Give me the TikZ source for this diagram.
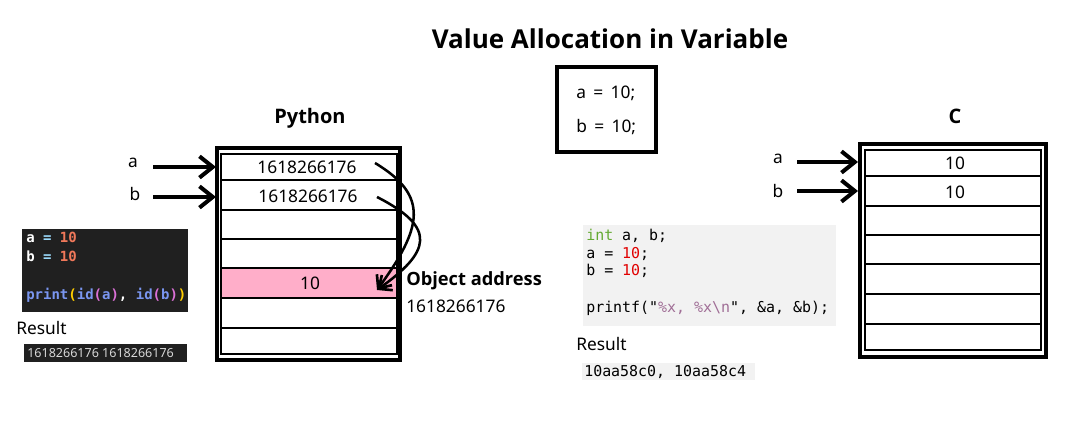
\documentclass[tikz,border=0pt]{standalone}
\usepackage{fontspec}
\setmainfont{Noto Sans}
\newfontfamily\hfont{Open Sans}
\setmonofont{DejaVu Sans Mono}
\usetikzlibrary{arrows.meta}
\definecolor{pinkrow}{RGB}{255,174,201}
\definecolor{darkbg}{RGB}{32,32,32}
\definecolor{lightbg}{RGB}{242,242,242}
\definecolor{eqblue}{RGB}{156,220,254}
\definecolor{numor}{RGB}{240,120,90}
\definecolor{fnblue}{RGB}{122,150,240}
\definecolor{brgold}{RGB}{255,205,0}
\definecolor{brpink}{RGB}{218,112,214}
\definecolor{intgreen}{RGB}{100,170,50}
\definecolor{numred}{RGB}{225,0,0}
\definecolor{strmauve}{RGB}{160,110,150}
\definecolor{resgray}{RGB}{215,215,215}
\tikzset{
  lbl/.style={inner sep=0pt, font=\fontsize{13}{15}\selectfont},
  ttl/.style={inner sep=0pt, font=\fontsize{15}{18}\selectfont\hfont\bfseries},
  outerbox/.style={draw, line width=2.5pt},
  innerbox/.style={draw, line width=0.8pt},
  rowline/.style={line width=0.8pt},
  bigarrow/.style={line width=3.3pt, -{Straight Barb[length=10pt,width=16pt,line width=3pt]}},
  curvearrow/.style={line width=1.9pt, -{Straight Barb[length=8pt,width=14pt,line width=2pt]}},
  code/.style={inner sep=0pt, anchor=west, font=\fontsize{11.2}{13}\ttfamily},
  dcode/.style={inner sep=0pt, anchor=west, font=\fontsize{10.5}{12}\ttfamily\bfseries},
}
\begin{document}
\begin{tikzpicture}[x=0.75pt,y=-0.75pt]
\useasboundingbox (0,0) rectangle (1082,427);
% Title
\node[inner sep=0pt, font=\fontsize{19.5}{23}\selectfont\hfont\bfseries] (title) at (610,39) {Value Allocation in Variable};
% central box
\draw[line width=2.3pt] (557,67) rectangle (656,152);
\node[lbl, anchor=west] (ca) at (576,93) {a \,=\, 10;};
\node[lbl, anchor=west] (cb) at (576,127) {b \,=\, 10;};

% ---------- Python ----------
\node[ttl] (py) at (310,118) {Python};
\fill[pinkrow] (221,268) rectangle (397,298);
\draw[outerbox] (217,148) rectangle (400,360);
\draw[innerbox] (221,154) rectangle (397,354);
\foreach \yy in {180,210,239,268,298,328} \draw[rowline] (221,\yy) -- (397,\yy);
\node[lbl] (p1) at (307,167) {1618266176};
\node[lbl] (p2) at (308,196) {1618266176};
\node[lbl] (p5) at (310,283) {10};
\node[lbl] (pa) at (133,163) {a};
\node[lbl] (pb) at (135,194) {b};
\coordinate (pas) at (153,167); \coordinate (pae) at (216,167);
\coordinate (pbs) at (153,197); \coordinate (pbe) at (216,197);
\draw[bigarrow] (pas) -- (pae);
\draw[bigarrow] (pbs) -- (pbe);
\coordinate (c1s) at (375,163);
\coordinate (c2s) at (377,197);
\coordinate (ctip) at (377,290);
\draw[curvearrow] (c1s) .. controls (430,196) and (422,228) .. (ctip);
\draw[curvearrow] (c2s) .. controls (438,228) and (430,252) .. (ctip);
\node[inner sep=0pt, anchor=west, font=\fontsize{13.7}{16}\selectfont\hfont\bfseries] (oa) at (406,281) {Object address};
\node[lbl, anchor=west] (oan) at (406,306) {1618266176};

% dark code box
\fill[darkbg] (22,229) rectangle (188,312);
\node[dcode] (d1) at (26,237) {\textcolor{white}{a} \textcolor{eqblue}{=} \textcolor{numor}{10}};
\node[dcode] (d2) at (26,256) {\textcolor{white}{b} \textcolor{eqblue}{=} \textcolor{numor}{10}};
\node[dcode] (d3) at (26,295) {\textcolor{fnblue}{print}\textcolor{brgold}{(}\textcolor{fnblue}{id}\textcolor{brpink}{(}\textcolor{fnblue}{a}\textcolor{brpink}{)}\textcolor{white}{,} \textcolor{fnblue}{id}\textcolor{brpink}{(}\textcolor{fnblue}{b}\textcolor{brpink}{)}\textcolor{brgold}{)}};
\node[lbl, anchor=west] (r1) at (16,328) {Result};
\fill[darkbg] (24,344) rectangle (187,362);
\node[inner sep=0pt, anchor=west, text=resgray, font=\fontsize{9.4}{11}\selectfont] (r1v) at (27,353) {1618266176 1618266176};

% ---------- C ----------
\node[ttl] (cc) at (955,116) {C};
\draw[outerbox] (860,144) rectangle (1046,357);
\draw[innerbox] (865,150) rectangle (1041,350);
\foreach \yy in {176,206,235,264,294,324} \draw[rowline] (865,\yy) -- (1041,\yy);
\node[lbl] (k1) at (955,163) {10};
\node[lbl] (k2) at (955,192) {10};
\node[lbl] (ka) at (778,159) {a};
\node[lbl] (kb) at (778,191) {b};
\coordinate (kas) at (797,162); \coordinate (kae) at (858,162);
\coordinate (kbs) at (797,191); \coordinate (kbe) at (858,191);
\draw[bigarrow] (kas) -- (kae);
\draw[bigarrow] (kbs) -- (kbe);

% C code box
\fill[lightbg] (583,225) rectangle (836,326);
\node[code] (e1) at (586,236) {\textcolor{intgreen}{int} a, b;};
\node[code] (e2) at (586,254) {a = \textcolor{numred}{10};};
\node[code] (e3) at (586,271) {b = \textcolor{numred}{10};};
\node[code] (e4) at (586,308) {printf("\textcolor{strmauve}{\%x, \%x\textbackslash n}", \&a, \&b);};
\node[lbl, anchor=west] (r2) at (576,344) {Result};
\fill[lightbg] (582,363) rectangle (755,380);
\node[code] (r2v) at (584,372) {10aa58c0, 10aa58c4};
\end{tikzpicture}
\end{document}
